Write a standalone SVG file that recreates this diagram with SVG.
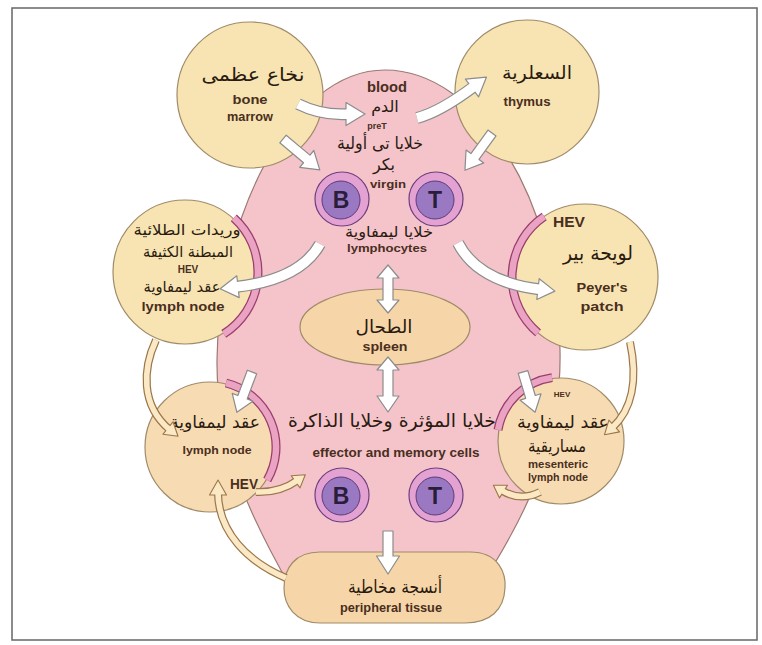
<svg xmlns="http://www.w3.org/2000/svg" width="762" height="645" viewBox="0 0 762 645">
<defs>
<style>
.body{fill:#f4c4ca;stroke:#9c7a72;stroke-width:1.2}
.nd{fill:#f7e4b2;stroke:#a08b68;stroke-width:1.2}
.nd2{fill:#f7dcb3;stroke:#a08b68;stroke-width:1.2}
.nd3{fill:#f6d6a8;stroke:#a08b68;stroke-width:1.2}
.hevo{fill:none;stroke:#9a3d6b;stroke-width:9}
.hevi{fill:none;stroke:#eaa3c3;stroke-width:6.5}
.cello{fill:#e3a2d2;stroke:#6e3f7e;stroke-width:1.2}
.celli{fill:#9a79c2;stroke:#5b3a78;stroke-width:1}
.cl{font-family:'Liberation Sans',Arial,sans-serif;font-weight:bold;font-size:23px;fill:#2a1d3a;text-anchor:middle}
.ar{font-family:'DejaVu Sans',sans-serif;fill:#2a1a10;text-anchor:middle;direction:rtl}
.en{font-family:'Liberation Sans',Arial,sans-serif;font-weight:bold;fill:#4a2e20;text-anchor:middle}
.wa{fill:#fff;stroke:#8c8c8c;stroke-width:1.2;stroke-linejoin:round}
.wso{fill:none;stroke:#8c8c8c;stroke-width:12}
.wsi{fill:none;stroke:#fff;stroke-width:9.6}
.ta{fill:#fbe9c6;stroke:#9c7648;stroke-width:1.1;stroke-linejoin:round}
.tso{fill:none;stroke:#9c7648;stroke-width:8}
.tsi{fill:none;stroke:#fbe9c6;stroke-width:5.6}
</style>
</defs>
<rect width="762" height="645" fill="#fff"/>
<rect x="12" y="8" width="745" height="632" fill="none" stroke="#666" stroke-width="1.5"/>

<g id="blood">
<path class="body" d="M385,70 C478,70 558,200 560,350 C562,440 530,510 478,590 L292,590 C255,525 216,450 217,360 C218,220 290,70 385,70 Z"/>
<text class="en" x="387" y="92" font-size="14" textLength="40" lengthAdjust="spacingAndGlyphs">blood</text>
<text class="ar" x="385" y="112" font-size="16">الدم</text>
<text class="en" x="377" y="129" font-size="9">preT</text>
<text class="ar" x="380" y="149" font-size="17" textLength="86" lengthAdjust="spacingAndGlyphs">خلايا تى أولية</text>
<text class="ar" x="384" y="170" font-size="16">بكر</text>
<text class="en" x="388" y="188" font-size="11" textLength="36" lengthAdjust="spacingAndGlyphs">virgin</text>
<text class="ar" x="389" y="237" font-size="15" textLength="88" lengthAdjust="spacingAndGlyphs">خلايا ليمفاوية</text>
<text class="en" x="387" y="252" font-size="11.5" textLength="80" lengthAdjust="spacingAndGlyphs">lymphocytes</text>
<text class="ar" x="392" y="427" font-size="18" textLength="208" lengthAdjust="spacingAndGlyphs">خلايا المؤثرة وخلايا الذاكرة</text>
<text class="en" x="396" y="457" font-size="12" textLength="167" lengthAdjust="spacingAndGlyphs">effector and memory cells</text>
</g>

<g id="bone-marrow">
<circle class="nd" cx="250" cy="95" r="73"/>
<text class="ar" x="253" y="81" font-size="19" textLength="103" lengthAdjust="spacingAndGlyphs">نخاع عظمى</text>
<text class="en" x="250" y="104" font-size="12" textLength="35" lengthAdjust="spacingAndGlyphs">bone</text>
<text class="en" x="250" y="121" font-size="12" textLength="46" lengthAdjust="spacingAndGlyphs">marrow</text>
</g>

<g id="thymus">
<circle class="nd" cx="527" cy="92" r="72"/>
<text class="ar" x="537" y="79" font-size="18" textLength="70" lengthAdjust="spacingAndGlyphs">السعلرية</text>
<text class="en" x="527" y="106" font-size="12" textLength="47" lengthAdjust="spacingAndGlyphs">thymus</text>
</g>

<g id="lymph-node-hev">
<circle class="nd" cx="185" cy="272" r="72"/>
<path class="hevo" d="M233.8,217.8 A73,73 0 0 1 223.7,333.9"/>
<path class="hevi" d="M233.8,217.8 A73,73 0 0 1 223.7,333.9"/>
<text class="ar" x="187" y="235" font-size="15" textLength="107" lengthAdjust="spacingAndGlyphs">وريدات الطلائية</text>
<text class="ar" x="188" y="257" font-size="15" textLength="90" lengthAdjust="spacingAndGlyphs">المبطنة الكثيفة</text>
<text class="en" x="188" y="273" font-size="10">HEV</text>
<text class="ar" x="182" y="292" font-size="15" textLength="77" lengthAdjust="spacingAndGlyphs">عقد ليمفاوية</text>
<text class="en" x="183" y="311" font-size="12" textLength="83" lengthAdjust="spacingAndGlyphs">lymph node</text>
</g>

<g id="peyers-patch">
<circle class="nd" cx="585" cy="277" r="73"/>
<path class="hevo" d="M544.2,216.5 A73,73 0 0 0 538.1,332.9"/>
<path class="hevi" d="M544.2,216.5 A73,73 0 0 0 538.1,332.9"/>
<text class="en" x="569" y="227" font-size="14" textLength="32" lengthAdjust="spacingAndGlyphs">HEV</text>
<text class="ar" x="598" y="260" font-size="20" textLength="70" lengthAdjust="spacingAndGlyphs">لويحة بير</text>
<text class="en" x="602" y="292" font-size="13" textLength="51" lengthAdjust="spacingAndGlyphs">Peyer's</text>
<text class="en" x="602" y="311" font-size="13" textLength="43" lengthAdjust="spacingAndGlyphs">patch</text>
</g>

<g id="spleen">
<ellipse class="nd3" cx="385" cy="327" rx="85" ry="38"/>
<text class="ar" x="384" y="333" font-size="18" textLength="57" lengthAdjust="spacingAndGlyphs">الطحال</text>
<text class="en" x="385" y="351" font-size="13" textLength="45" lengthAdjust="spacingAndGlyphs">spleen</text>
</g>

<g id="lymph-node">
<circle class="nd2" cx="210" cy="447" r="65"/>
<path class="hevo" d="M226,383 A66,66 0 0 1 267.2,480"/>
<path class="hevi" d="M226,383 A66,66 0 0 1 267.2,480"/>
<text class="ar" x="215" y="428" font-size="17" textLength="90" lengthAdjust="spacingAndGlyphs">عقد ليمفاوية</text>
<text class="en" x="217" y="454" font-size="11" textLength="69" lengthAdjust="spacingAndGlyphs">lymph node</text>
<text class="en" x="244" y="489" font-size="14" textLength="28" lengthAdjust="spacingAndGlyphs">HEV</text>
</g>

<g id="mesenteric-lymph-node">
<circle class="nd2" cx="561" cy="441" r="63"/>
<path class="hevo" d="M552.1,377.6 A64,64 0 0 0 498,429.9"/>
<path class="hevi" d="M552.1,377.6 A64,64 0 0 0 498,429.9"/>
<text class="en" x="562" y="397" font-size="8" fill="#7a5a40">HEV</text>
<text class="ar" x="563" y="428" font-size="17" textLength="92" lengthAdjust="spacingAndGlyphs">عقد ليمفاوية</text>
<text class="ar" x="557" y="452" font-size="17" textLength="58" lengthAdjust="spacingAndGlyphs">مساريقية</text>
<text class="en" x="558" y="468" font-size="10" textLength="60" lengthAdjust="spacingAndGlyphs">mesenteric</text>
<text class="en" x="558" y="481" font-size="10" textLength="60" lengthAdjust="spacingAndGlyphs">lymph node</text>
</g>

<g id="peripheral-tissue">
<path class="nd3" d="M320,552 L470,552 C500,552 506,575 505,588 C504,610 490,623 465,623 L320,623 C295,623 284,605 284,588 C284,568 295,552 320,552 Z"/>
<text class="ar" x="395" y="593" font-size="18" textLength="94" lengthAdjust="spacingAndGlyphs">أنسجة مخاطية</text>
<text class="en" x="391" y="612" font-size="12" textLength="102" lengthAdjust="spacingAndGlyphs">peripheral tissue</text>
</g>

<g id="b-cell-virgin">
<circle class="cello" cx="342" cy="199" r="27"/>
<circle class="celli" cx="341" cy="200" r="19"/>
<text class="cl" x="341" y="208">B</text>
</g>
<g id="t-cell-virgin">
<circle class="cello" cx="436" cy="199" r="27"/>
<circle class="celli" cx="435" cy="200" r="19"/>
<text class="cl" x="435" y="208">T</text>
</g>
<g id="b-cell-effector">
<circle class="cello" cx="342" cy="495" r="27"/>
<circle class="celli" cx="341" cy="496" r="19"/>
<text class="cl" x="341" y="504">B</text>
</g>
<g id="t-cell-memory">
<circle class="cello" cx="436" cy="495" r="27"/>
<circle class="celli" cx="435" cy="496" r="19"/>
<text class="cl" x="435" y="504">T</text>
</g>

<g id="connectors">
<path class="wso" d="M298,104 Q322,116 349,114"/>
<polygon class="wa" points="346,102.5 365,114 346,125.5"/>
<path class="wsi" d="M298,104 Q322,116 349,114"/>
<path class="wso" d="M417,118 Q440,112 474.4,86.2"/>
<polygon class="wa" points="478.6,96.8 486.4,77.2 465.4,79.2"/>
<path class="wsi" d="M417,118 Q440,112 474.4,86.2"/>
<polygon class="wa" transform="translate(283,139) rotate(40)" points="0,-5 31,-5 31,-11 48,0 31,11 31,5 0,5"/>
<polygon class="wa" transform="translate(492,133) rotate(126)" points="0,-5 29,-5 29,-11 46,0 29,11 29,5 0,5"/>
<path class="wso" d="M320,244 Q300,280 235,287"/>
<polygon class="wa" points="236.8,275.8 220.1,288.7 239.2,297.6"/>
<path class="wsi" d="M320,244 Q300,280 235,287"/>
<path class="wso" d="M458,243 Q478,282 541,289.5"/>
<polygon class="wa" points="539.2,278.7 554.9,291.1 536.8,299.5"/>
<path class="wsi" d="M458,243 Q478,282 541,289.5"/>
<polygon class="wa" points="388,265 399,278 393,278 393,300 399,300 388,313 377,300 383,300 383,278 377,278"/>
<polygon class="wa" points="388,357 399,370 393,370 393,396 399,396 388,412 377,396 383,396 383,370 377,370"/>
<polygon class="wa" transform="translate(252,372) rotate(110.6)" points="0,-5 27,-5 27,-11 43,0 27,11 27,5 0,5"/>
<polygon class="wa" transform="translate(523,372) rotate(73.3)" points="0,-5 26,-5 26,-11 42,0 26,11 26,5 0,5"/>
<polygon class="wa" points="383,531 393,531 393,556 399.5,556 388,574 376.5,556 383,556"/>

<path class="tso" d="M156,340 C143,368 140,405 170,430"/>
<polygon class="ta" points="163,434.2 178,436.2 173,421.8"/>
<path class="tsi" d="M156,340 C143,368 140,405 170,430"/>
<path class="tso" d="M630,342 C638,380 632,410 612,428"/>
<polygon class="ta" points="619.6,431.9 604.5,434.7 608.9,420.1"/>
<path class="tsi" d="M630,342 C638,380 632,410 612,428"/>
<path class="tso" d="M256,492 Q280,493 298,480"/>
<polygon class="ta" points="300,487.9 305.3,474.8 291.2,475.7"/>
<path class="tsi" d="M256,492 Q280,493 298,480"/>
<path class="tso" d="M540,492 Q520,502 501,490"/>
<polygon class="ta" points="507.5,485.3 493.4,485.2 499.5,497.9"/>
<path class="tsi" d="M540,492 Q520,502 501,490"/>
<path class="tso" d="M286,578 C248,562 218,532 218,492"/>
<polygon class="ta" points="209.5,495 218,480 226.5,495"/>
<path class="tsi" d="M286,578 C248,562 218,532 218,492"/>
</g>
</svg>
